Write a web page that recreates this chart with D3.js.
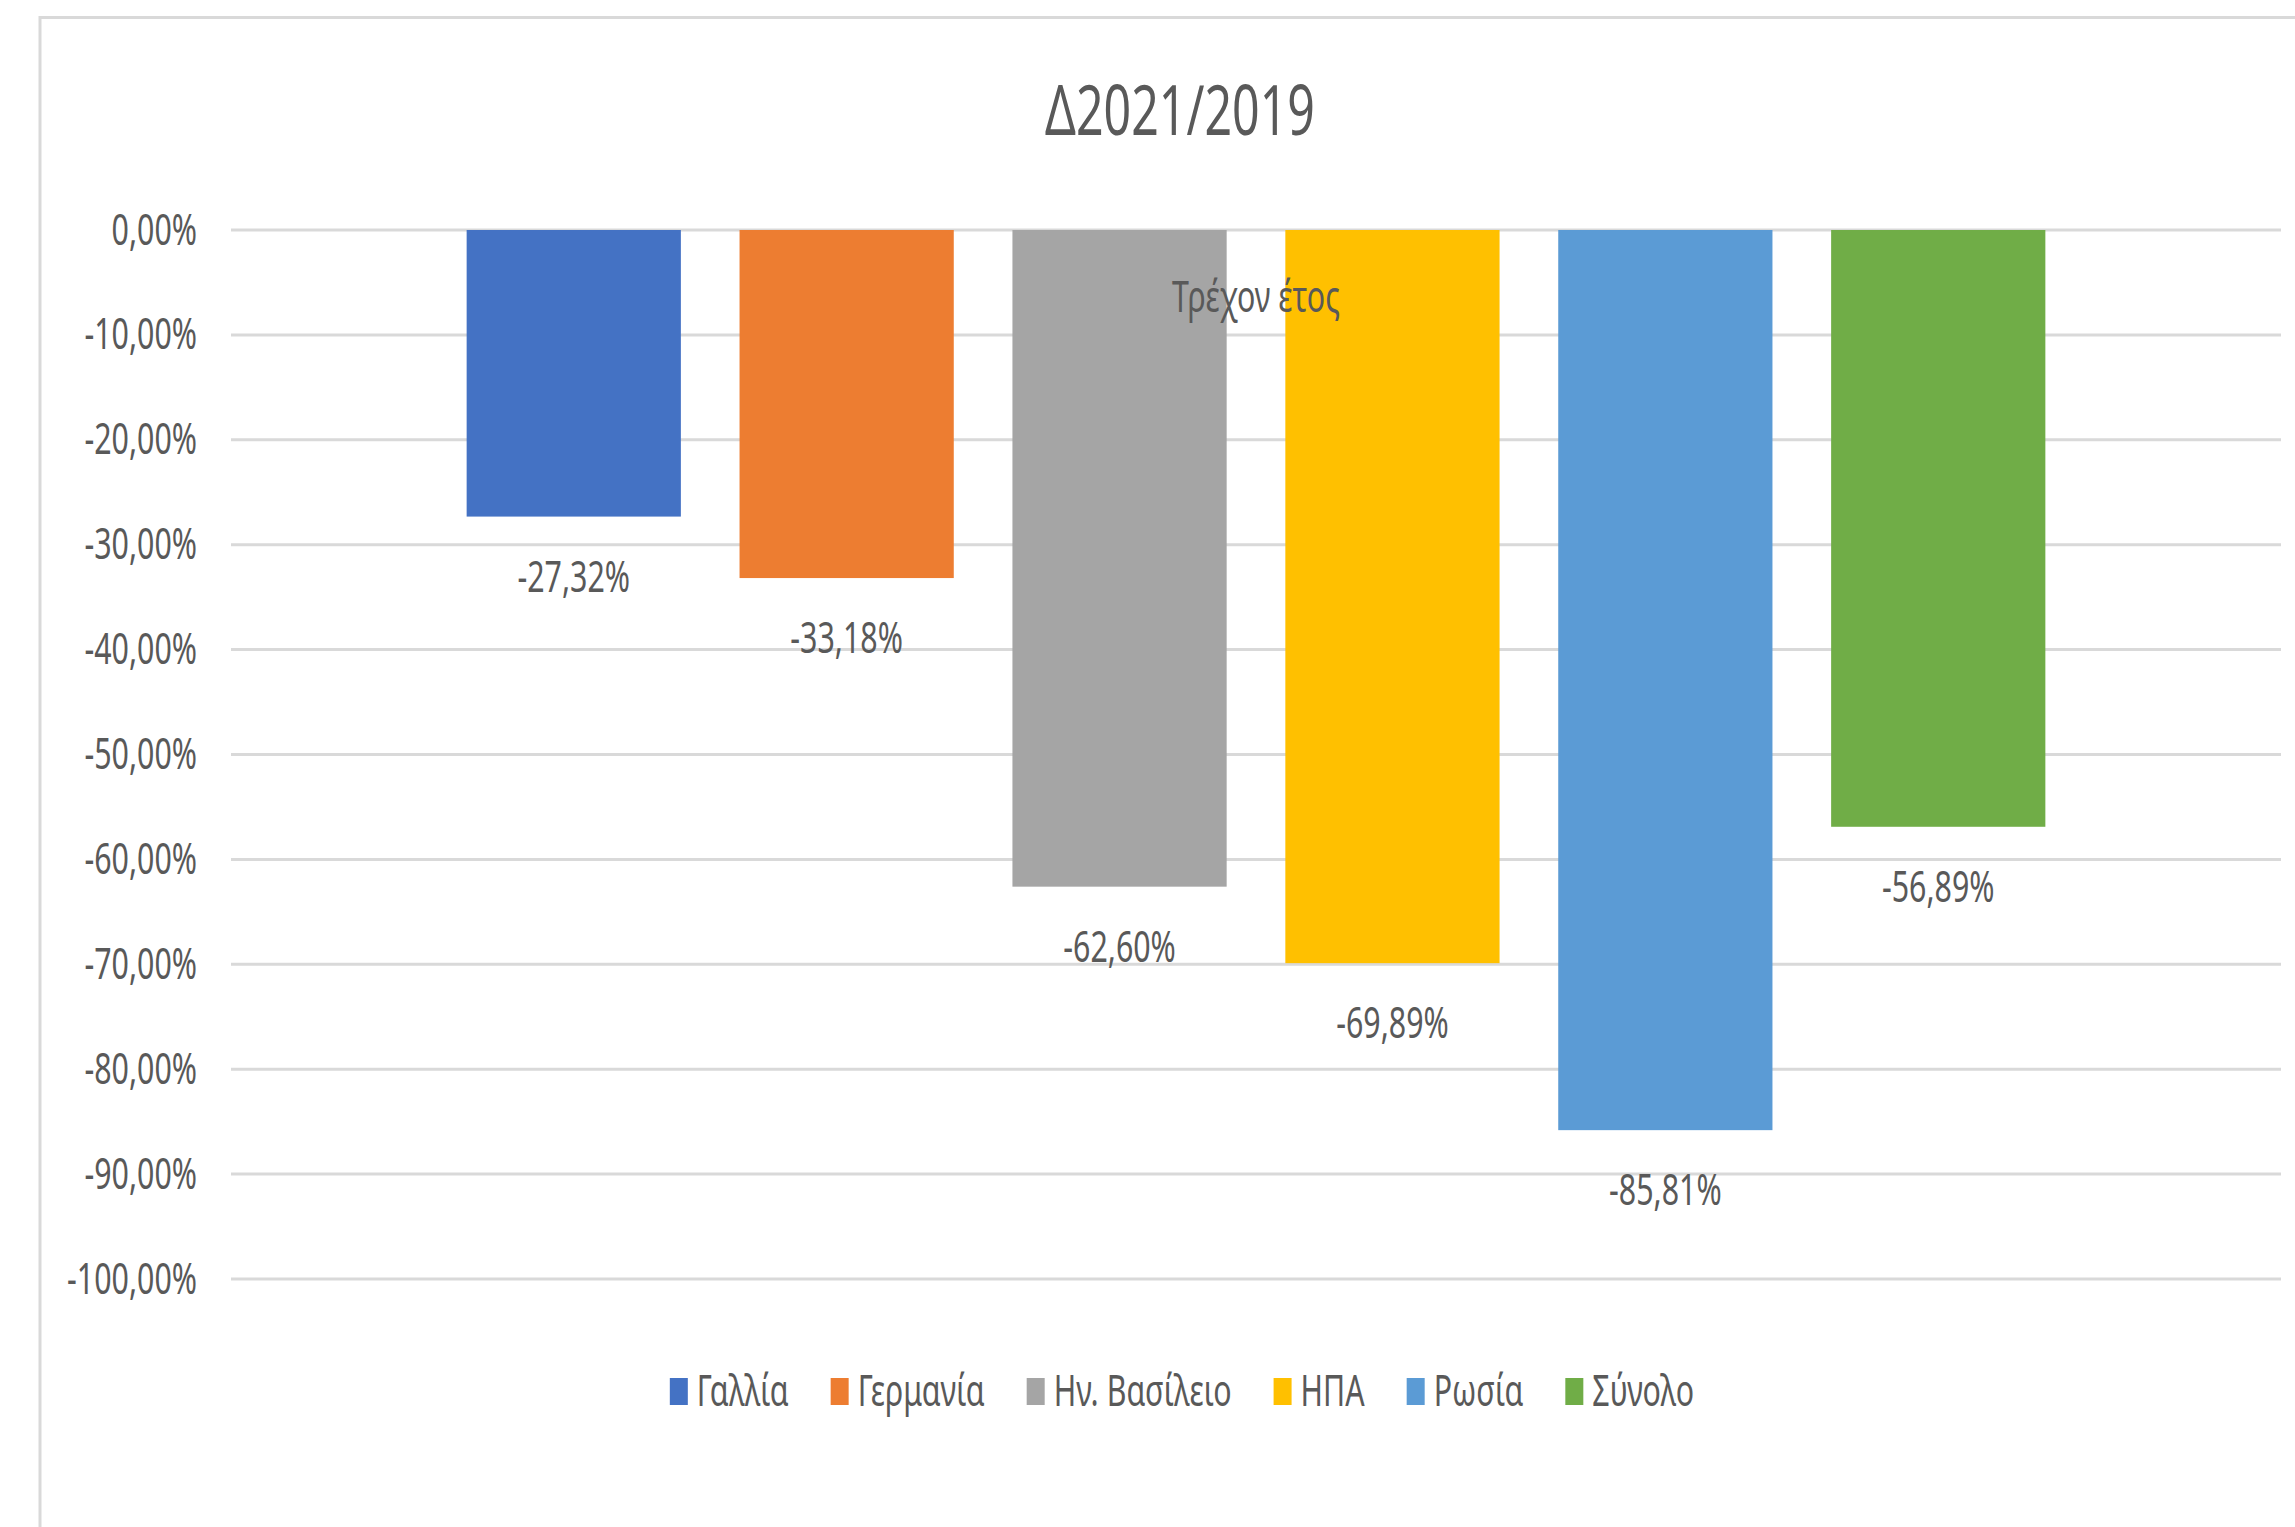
<!DOCTYPE html>
<html>
<head>
<meta charset="utf-8">
<script src="https://cdn.jsdelivr.net/npm/d3@7"></script>
<style>
  html, body { margin: 0; padding: 0; background: #fff; overflow: hidden; }
  svg { display: block; }
  text { font-family: "Noto Sans", "Liberation Sans", sans-serif; fill: #595959; }
</style>
</head>
<body>
<div id="chart"></div>
<script>
const chartTitle = 'Δ2021/2019';
const categories = ['Τρέχον έτος'];
const seriesNames = ['Γαλλία', 'Γερμανία', 'Ην. Βασίλειο', 'ΗΠΑ', 'Ρωσία', 'Σύνολο'];
const seriesValues = [-0.2732, -0.3318, -0.6260, -0.6989, -0.8581, -0.5689];
const seriesColors = ['#4472C4', '#ED7D31', '#A5A5A5', '#FFC000', '#5B9BD5', '#70AD47'];
const yTicks = [0, -0.1, -0.2, -0.3, -0.4, -0.5, -0.6, -0.7, -0.8, -0.9, -1];

const W = 2295, H = 1527;
// the source picture is squashed sideways, so draw wide and let the viewBox squeeze it
const SQUEEZE = 0.69;
const ix = px => px / SQUEEZE;
const plot = { left: 231, right: 2281, top: 230, bottom: 1279 };
const fontSize = 44;

const locale = d3.formatLocale({ decimal: ',', thousands: '.', grouping: [3], currency: ['', '€'], minus: '-' });
const pct = locale.format('.2%');

const svg = d3.select('#chart').append('svg')
    .attr('width', W)
    .attr('height', H)
    .attr('viewBox', `0 0 ${ix(W)} ${H}`)
    .attr('preserveAspectRatio', 'none');

// chart frame (only top and left edges are in view)
svg.append('line')
    .attr('x1', ix(40)).attr('x2', ix(W))
    .attr('y1', 17.5).attr('y2', 17.5)
    .attr('stroke', '#d9d9d9').attr('stroke-width', 3);
svg.append('line')
    .attr('x1', ix(40)).attr('x2', ix(40))
    .attr('y1', 16).attr('y2', H)
    .attr('stroke', '#d9d9d9').attr('stroke-width', 3 / SQUEEZE);

svg.append('text')
    .attr('x', ix(1180)).attr('y', 135)
    .attr('text-anchor', 'middle')
    .attr('font-size', 70)
    .text(chartTitle);

const x0 = d3.scaleBand()
    .domain(categories)
    .range([ix(plot.left), ix(plot.right)])
    .paddingInner(0)
    .paddingOuter(0.126);
const x1 = d3.scaleBand()
    .domain(seriesNames)
    .range([0, x0.bandwidth()])
    .paddingInner(0.215)
    .paddingOuter(0.1075);
const y = d3.scaleLinear()
    .domain([-1, 0])
    .range([plot.bottom, plot.top]);

// gridlines
svg.append('g')
    .selectAll('line')
    .data(yTicks)
    .enter().append('line')
    .attr('x1', ix(plot.left)).attr('x2', ix(plot.right))
    .attr('y1', d => y(d)).attr('y2', d => y(d))
    .attr('stroke', '#d9d9d9').attr('stroke-width', 3);

const yAxis = svg.append('g')
    .attr('transform', `translate(${ix(plot.left)},0)`)
    .call(d3.axisLeft(y).tickValues(yTicks).tickSize(0).tickPadding(ix(34)).tickFormat(pct));
yAxis.select('.domain').remove();
yAxis.attr('font-family', null);
yAxis.selectAll('text')
    .attr('font-size', fontSize)
    .attr('fill', '#595959');

const bars = seriesNames.map((name, i) => ({
    cat: categories[0],
    name,
    value: seriesValues[i],
    color: seriesColors[i],
}));

svg.append('g')
    .selectAll('rect')
    .data(bars)
    .enter().append('rect')
    .attr('x', d => x0(d.cat) + x1(d.name))
    .attr('width', x1.bandwidth())
    .attr('y', y(0))
    .attr('height', d => y(d.value) - y(0))
    .attr('fill', d => d.color);

svg.append('g')
    .selectAll('text')
    .data(bars)
    .enter().append('text')
    .attr('x', d => x0(d.cat) + x1(d.name) + x1.bandwidth() / 2)
    .attr('y', d => y(d.value) + 75)
    .attr('text-anchor', 'middle')
    .attr('font-size', fontSize)
    .text(d => pct(d.value));

// category axis sits on the zero line and is drawn over the bars
const xAxis = svg.append('g')
    .attr('transform', `translate(0,${y(0)})`)
    .call(d3.axisBottom(x0).tickSize(0).tickPadding(51));
xAxis.select('.domain').remove();
xAxis.attr('font-family', null);
xAxis.selectAll('text')
    .attr('font-size', fontSize)
    .attr('fill', '#595959');

// legend
const legend = svg.append('g');
let cursor = 0;
seriesNames.forEach((name, i) => {
    const item = legend.append('g').attr('transform', `translate(${cursor},0)`);
    item.append('rect')
        .attr('x', 0).attr('y', 1378)
        .attr('width', ix(18)).attr('height', 27)
        .attr('fill', seriesColors[i]);
    const t = item.append('text')
        .attr('x', ix(27)).attr('y', 1406)
        .attr('font-size', fontSize)
        .text(name);
    const tw = t.node().getComputedTextLength();
    cursor += ix(27) + tw + (i < seriesNames.length - 1 ? ix(42) : 0);
});
legend.attr('transform', `translate(${ix(1182) - cursor / 2},0)`);
</script>
</body>
</html>
